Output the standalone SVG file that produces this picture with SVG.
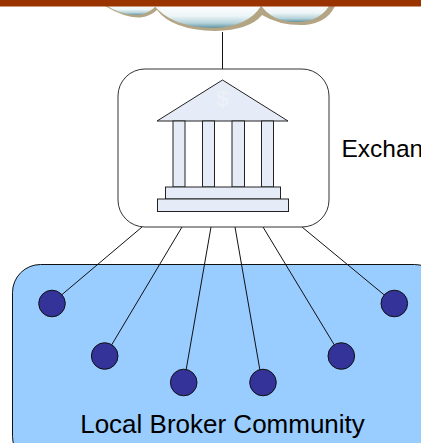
<svg xmlns="http://www.w3.org/2000/svg" width="421" height="443" viewBox="0 0 421 443">
  <defs>
    <linearGradient id="cloudFill" x1="0" y1="0" x2="0" y2="1">
      <stop offset="0" stop-color="#ffffff"/>
      <stop offset="0.5" stop-color="#edf5f7"/>
      <stop offset="0.8" stop-color="#b4d2da"/>
      <stop offset="1" stop-color="#5f93a2"/>
    </linearGradient>
  </defs>
  <style>
    .conn { stroke: #111; stroke-width: 1; fill: none; }
    .broker { fill: #333399; stroke: #111; stroke-width: 1; }
    .part { fill: #e6ecf7; stroke: #222; stroke-width: 1; }
    .shadow { fill: #b3a584; }
    .lobe { fill: url(#cloudFill); }
    text { font-family: "Liberation Sans", Arial, sans-serif; fill: #000; }
  </style>
  <rect width="421" height="443" fill="#fff"/>

  <g id="cloud">
    <path class="shadow" d="M105 6 Q125 18 140 17.500 Q150 16.500 157 10 Q172 30 215 31 Q250 30 262 15 Q280 26 305 25 Q327 23 335 6 Z"/>
    <path class="lobe" d="M104 4 Q122 16 138 15 Q150 13 156 6 Z"/>
    <path class="lobe" d="M153 4 Q170 27 213 28 Q248 27 261 6 Z"/>
    <path class="lobe" d="M260 4 Q272 23 300 22 Q322 20 330 4 Z"/>
  </g>
  <g id="banner"><rect x="0" y="0" width="421" height="6.500" fill="#993300"/></g>

  <g id="community">
    <rect x="12.500" y="264.500" width="430" height="200" rx="28" ry="28" fill="#99ccff" stroke="#111" stroke-width="1"/>
    <text x="222.500" y="432.500" font-size="26" text-anchor="middle">Local Broker Community</text>
  </g>

  <g id="connectors">
    <line class="conn" x1="222.500" y1="32" x2="222.500" y2="69" stroke="#555"/>
    <line class="conn" x1="142" y1="227" x2="52" y2="303"/>
    <line class="conn" x1="182" y1="227" x2="105" y2="356"/>
    <line class="conn" x1="211" y1="227" x2="184" y2="382"/>
    <line class="conn" x1="235" y1="227" x2="262" y2="382"/>
    <line class="conn" x1="263" y1="227" x2="341" y2="356"/>
    <line class="conn" x1="302" y1="227" x2="394" y2="303"/>
  </g>

  <g id="exchange">
    <rect x="118" y="69" width="211" height="158" rx="27" ry="27" fill="#fff" stroke="#333" stroke-width="1"/>
    <g id="building">
      <polygon class="part" points="222.500,80 288,121 157,121"/>
      <text x="222.700" y="106" font-size="22" text-anchor="middle" style="fill:#eef1f8">$</text>
      <rect class="part" x="173" y="121" width="12" height="66"/>
      <rect class="part" x="202.500" y="121" width="12" height="66"/>
      <rect class="part" x="232" y="121" width="12.500" height="66"/>
      <rect class="part" x="261.500" y="121" width="12" height="66"/>
      <rect class="part" x="165.500" y="187" width="115" height="12"/>
      <rect class="part" x="157.500" y="199" width="131" height="12.500"/>
    </g>
  </g>
  <text x="341.500" y="157" font-size="24.500">Exchange</text>

  <g id="broker-1"><circle class="broker" cx="52" cy="303.500" r="13.300"/></g>
  <g id="broker-2"><circle class="broker" cx="104.700" cy="356" r="13.300"/></g>
  <g id="broker-3"><circle class="broker" cx="183.700" cy="382.500" r="13.300"/></g>
  <g id="broker-4"><circle class="broker" cx="263" cy="382.500" r="13.300"/></g>
  <g id="broker-5"><circle class="broker" cx="341.300" cy="356" r="13.300"/></g>
  <g id="broker-6"><circle class="broker" cx="394.300" cy="303.500" r="13.300"/></g>
</svg>
